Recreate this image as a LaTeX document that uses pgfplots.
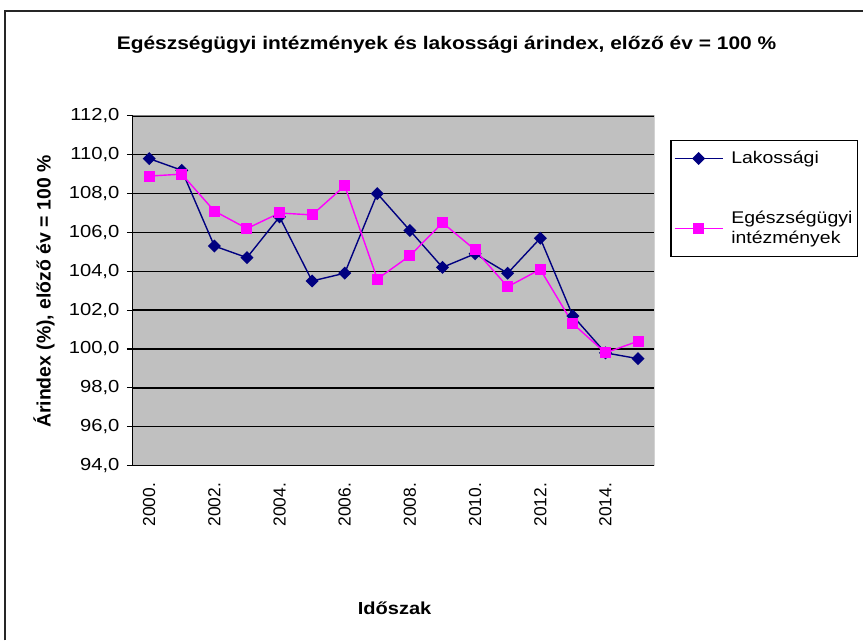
\documentclass[border=0pt]{standalone}
\usepackage{pgfplots}
\pgfplotsset{compat=1.18}
\usepackage{fontspec}
\setmainfont{Liberation Sans}
\newfontfamily\tickfont{Liberation Sans}[FakeStretch=1.16]
\newfontfamily\stretchfont{Liberation Sans}[FakeStretch=1.15]
\newfontfamily\plainfont{Liberation Sans}
\definecolor{navyc}{HTML}{000080}
\definecolor{magc}{HTML}{FF00FF}
\definecolor{plotbg}{HTML}{C0C0C0}
\begin{document}
\begin{tikzpicture}[x=1bp,y=1bp]
\path (0,0) rectangle (864,641);
\draw[line width=1.8bp,black!85] (5,0) -- (5,630) -- (864,630);
\node[font=\stretchfont\bfseries\fontsize{18.3}{21}\selectfont] at (447,596) {Egészségügyi intézmények és lakossági árindex, előző év = 100 \%};
\node[font=\stretchfont\bfseries\fontsize{17.5}{20}\selectfont] at (395,32) {Időszak};
\node[font=\plainfont\bfseries\fontsize{19.5}{22}\selectfont,rotate=90] at (44,349) {Árindex (\%), előző év = 100 \%};
\begin{axis}[
  at={(133bp,175bp)}, anchor=south west,
  scale only axis, width=522bp, height=350bp,
  xmin=-0.5, xmax=15.5, ymin=94, ymax=112,
  axis lines*=left,
  axis line style={black, line width=1.2bp},
  axis background/.style={fill=plotbg},
  ytick={94,96,...,112},
  ymajorgrids, major grid style={black, line width=1.4bp},
  xtick={0,2,...,14},
  xticklabels={2000.,2002.,2004.,2006.,2008.,2010.,2012.,2014.},
  minor xtick={-0.5,0.5,...,15.5},
  tick align=outside,
  major tick length=6bp, minor tick length=6bp,
  xtick style={draw=none},
  minor tick style={black, line width=1.2bp},
  ytick style={black, line width=1.2bp},
  x tick label style={rotate=90, anchor=east, font=\plainfont\fontsize{17.5}{20}\selectfont, xshift=-8bp},
  y tick label style={font=\tickfont\fontsize{17.5}{20}\selectfont, xshift=-4bp},
  /pgf/number format/assume math mode=true,
  yticklabel style={/pgf/number format/.cd, fixed, fixed zerofill, precision=1, use comma, 1000 sep={}},
  legend style={at={(1.0307,0.9314)}, anchor=north west, draw=black, line width=1.2bp,
    font=\stretchfont\fontsize{17}{20}\selectfont, cells={anchor=west, align=left},
    row sep=42bp, inner xsep=3bp, inner ysep=9bp},
  legend image code/.code={\draw[mark repeat=2,mark phase=2] plot coordinates {(0bp,0bp)(24bp,0bp)(48bp,0bp)}; \path (54bp,0bp);},
]
\draw[gray, line width=1.2bp] (rel axis cs:0,1) -- (rel axis cs:1,1) -- (rel axis cs:1,0);
\addplot[navyc, line width=1.4bp, mark=square*, mark size=3.9bp, mark options={solid, fill=navyc, rotate=45}] coordinates {
(0,109.8)(1,109.2)(2,105.3)(3,104.7)(4,106.8)(5,103.5)(6,103.9)(7,108.0)
(8,106.1)(9,104.2)(10,104.9)(11,103.9)(12,105.7)(13,101.7)(14,99.8)(15,99.5)};
\addlegendentry{Lakossági}
\addplot[magc, line width=1.4bp, mark=square*, mark size=4.8bp, mark options={solid, fill=magc}] coordinates {
(0,108.9)(1,109.0)(2,107.1)(3,106.2)(4,107.0)(5,106.9)(6,108.4)(7,103.6)
(8,104.8)(9,106.5)(10,105.1)(11,103.2)(12,104.1)(13,101.3)(14,99.8)(15,100.4)};
\addlegendentry{Egészségügyi\\intézmények}
\end{axis}
\end{tikzpicture}
\end{document}
